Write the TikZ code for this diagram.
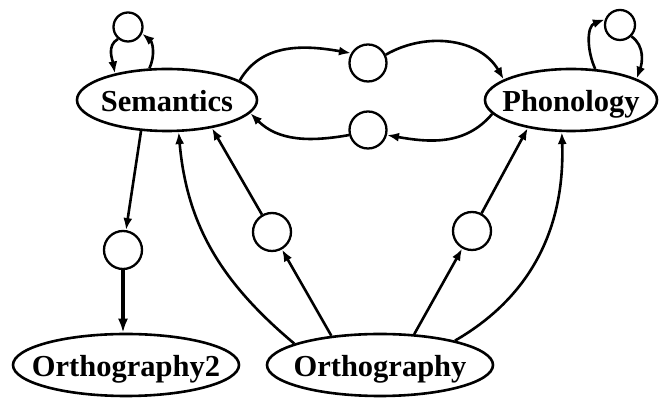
\documentclass[tikz,border=0pt]{standalone}
\usepackage{fontspec}
\setmainfont{Liberation Serif}
\usetikzlibrary{shapes.geometric,arrows.meta}
\begin{document}
\begin{tikzpicture}[x=1pt,y=1pt,
  lay/.style={draw,ellipse,line width=2.6pt,inner sep=0pt,text height=24pt,text depth=0pt,font=\fontsize{30.5}{34}\selectfont\bfseries},
  unit/.style={draw,circle,line width=2.3pt,inner sep=0pt},
  con/.style={line width=2.6pt,-{Latex[length=12pt,width=9pt]}},
  heavy/.style={line width=4.5pt,-{Latex[length=14pt,width=10pt]}}]
\useasboundingbox (0,0) rectangle (659,398);
% layer nodes
\node[lay,minimum width=180pt,minimum height=62pt] (sem) at (167,298) {\makebox[0pt]{Semantics}};
\node[lay,minimum width=172pt,minimum height=62pt] (ph) at (571,298) {\makebox[0pt]{Phonology}};
\node[lay,minimum width=226pt,minimum height=62pt] (o2) at (126,33) {\makebox[0pt]{Orthography2}};
\node[lay,minimum width=226pt,minimum height=62pt] (o) at (380,33) {\makebox[0pt]{Orthography}};
% hidden units
\node[unit,minimum size=29pt] (csl) at (128,371) {};
\node[unit,minimum size=30pt] (cph) at (620,373) {};
\node[unit,minimum size=37pt] (ct) at (368,335) {};
\node[unit,minimum size=37pt] (cb) at (368,268) {};
\node[unit,minimum size=38pt] (cl) at (123,148) {};
\node[unit,minimum size=38pt] (cm1) at (272,166) {};
\node[unit,minimum size=38pt] (cr) at (472,167) {};
% self loops
\draw[con] (sem.119) to[out=65,in=-40] (csl.-25);
\draw[con] (csl.230) to[out=210,in=100] (sem.153);
\draw[con] (ph.52) to[out=115,in=200] (cph.160);
\draw[con] (cph.-45) to[out=-35,in=70] (ph.18);
% semantics <-> phonology
\draw[con] (sem.15) to[out=60,in=170] (ct.150);
\draw[con] (ct.25) to[out=30,in=120] (ph.163);
\draw[con] (ph.190) to[out=230,in=-10] (cb.-15);
\draw[con] (cb.195) to[out=190,in=-45] (sem.-9);
% semantics -> orthography2
\draw[con] (sem.230) -- (cl);
\draw[heavy] (cl.south) -- (cl.south |- o2.north);
% orthography -> semantics
\draw[con] (o.149) -- (cm1);
\draw[con] (cm1) -- (sem.-32);
\draw[con] (o.166) to[out=140,in=-85] (sem.290);
% orthography -> phonology
\draw[con] (o.42) -- (cr);
\draw[con] (cr) -- (ph.213);
\draw[con] (o.18) to[out=30,in=-88] (ph.254);
\end{tikzpicture}
\end{document}
